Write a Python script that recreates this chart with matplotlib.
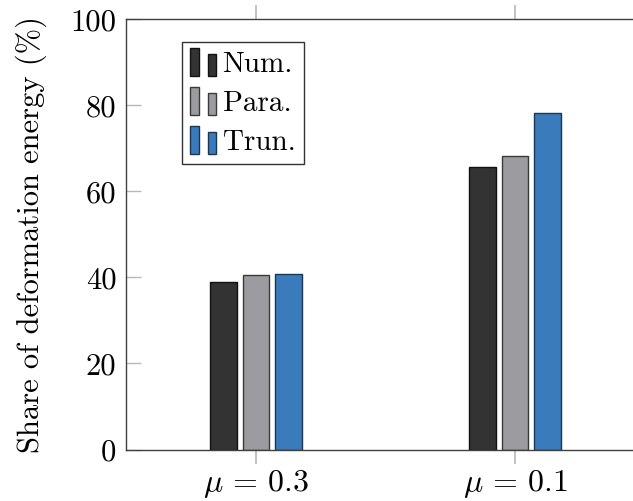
import matplotlib
matplotlib.use("Agg")
import matplotlib.pyplot as plt
import numpy as np
from matplotlib.patches import Rectangle
from matplotlib.legend_handler import HandlerBase

plt.rcParams['font.family'] = 'serif'
plt.rcParams['font.serif'] = ['cmr10']
plt.rcParams['mathtext.fontset'] = 'cm'
plt.rcParams['axes.unicode_minus'] = False
plt.rcParams['axes.formatter.use_mathtext'] = True

categories = [r'$\mu \,=\, 0.3$', r'$\mu \,=\, 0.1$']
series_names = ['Num.', 'Para.', 'Trun.']
num_vals = [38.9, 65.7]
para_vals = [40.5, 68.2]
trun_vals = [40.9, 78.3]
yticks = [0, 20, 40, 60, 80, 100]

fills = ['#333333', '#9c9ca0', '#3a7cbb']
edges = ['#111111', '#3a3a3a', '#1c3550']

class TwoBarHandler(HandlerBase):
    def create_artists(self, legend, orig_handle, xdescent, ydescent, width, height, fontsize, trans):
        fc = orig_handle.get_facecolor()
        ec = orig_handle.get_edgecolor()
        x0 = -xdescent
        y0 = -ydescent - 0.15 * height
        H = height * 1.25
        r1 = Rectangle((x0, y0), width * 0.32, H, facecolor=fc, edgecolor=ec, lw=1.0, transform=trans)
        r2 = Rectangle((x0 + width * 0.62, y0), width * 0.32, H * 0.8, facecolor=fc, edgecolor=ec, lw=1.0, transform=trans)
        return [r1, r2]

fig = plt.figure(figsize=(6.33, 5.01), dpi=100)
ax = fig.add_axes([126/633, (501-449.5)/501, (645-126)/633, (449.5-19.3)/501])

x = np.arange(len(categories))
w = 0.104
off = 0.1245
handles = []
for i, (vals, name) in enumerate(zip([num_vals, para_vals, trun_vals], series_names)):
    b = ax.bar(x + (i - 1) * off, vals, width=w, color=fills[i], edgecolor=edges[i], linewidth=1.0, label=name, zorder=2)
    handles.append(b.patches[0])

ax.set_xlim(-0.502, 1.502)
ax.set_ylim(0, 100)
ax.set_yticks(yticks)
ax.set_yticklabels([str(v) for v in yticks])
ax.set_xticks(x)
ax.set_xticklabels(categories)

for s in ax.spines.values():
    s.set_color('#404040')
    s.set_linewidth(1.0)

ax.tick_params(axis='x', direction='out', length=10, width=1.2, color='#b8b8b8',
               top=True, bottom=True, labelsize=23, pad=3)
ax.tick_params(axis='y', direction='in', length=11, width=1.0, color='#b8b8b8',
               left=True, right=False, labelsize=22, pad=7)

ax.set_ylabel('Share of deformation energy (%)', fontsize=22, labelpad=17)

leg = ax.legend(handles, series_names, handler_map={Rectangle: TwoBarHandler()},
                loc='upper left', bbox_to_anchor=(55.7/519, 1 - 22.4/430.2),
                fontsize=21, frameon=True, fancybox=False, edgecolor='#333333',
                framealpha=1, handlelength=0.95, handleheight=0.8, handletextpad=0.15,
                labelspacing=0.4, borderpad=0.3, borderaxespad=0)
leg.get_frame().set_linewidth(1.0)

fig.savefig('out.png', dpi=100)
